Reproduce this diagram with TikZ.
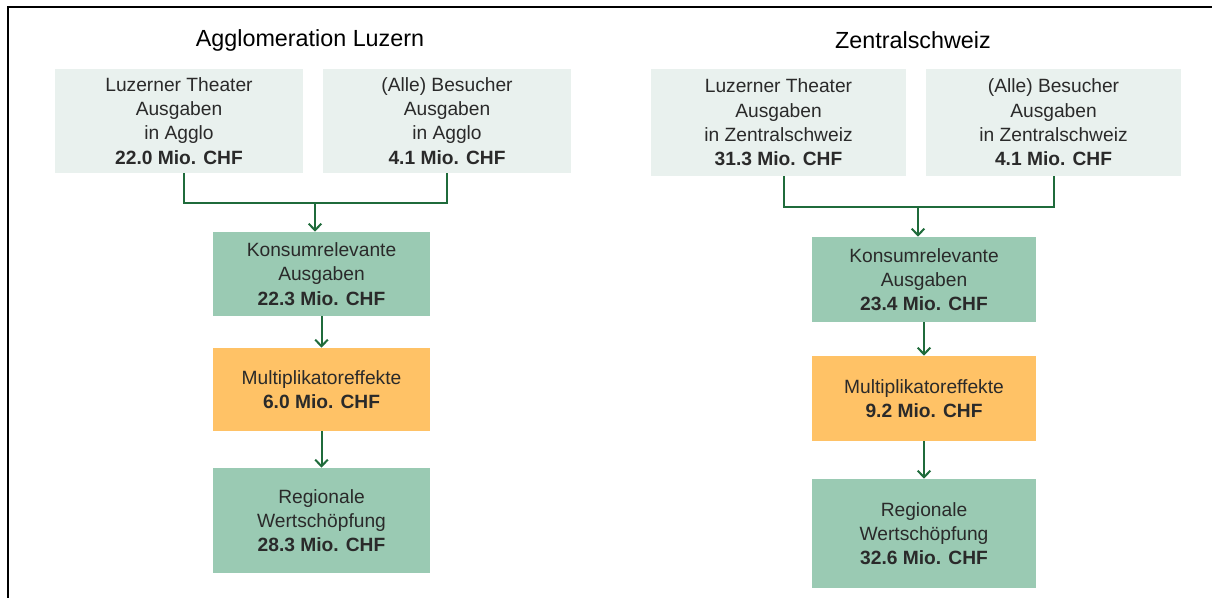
\documentclass[tikz,border=0pt]{standalone}
\usepackage{fontspec}
\setmainfont{Liberation Sans}
\usetikzlibrary{arrows.meta}
\definecolor{hellgruen}{HTML}{E9F1EE}
\definecolor{mittelgruen}{HTML}{9ACAB3}
\definecolor{multorange}{HTML}{FFC266}
\definecolor{pfeilgruen}{HTML}{1F6B3B}
\definecolor{textgrau}{HTML}{2A2A2A}
\newcommand{\pxu}{0.75pt} % ein Bildpunkt

\begin{document}
\begin{tikzpicture}[x=\pxu,y=-\pxu,font=\fontsize{14.4}{18.2}\selectfont,
  kasten/.style n args={2}{inner sep=0pt,align=center,text=textgrau,
    minimum width=#1*\pxu,minimum height=#2*\pxu},
  hell/.style={fill=hellgruen},
  gruen/.style={fill=mittelgruen},
  orange/.style={fill=multorange},
  titel/.style={font=\fontsize{17.5}{20}\selectfont},
  linie/.style={draw=pfeilgruen,line width=1.5pt},
  pfeil/.style={linie,-{Straight Barb[length=5pt,width=9.5pt]}}]
\useasboundingbox (0,0) rectangle (1212,598);
\draw[line width=1.5pt] (8,598) -- (8,7) -- (1212,7); % Rahmen

% Agglomeration Luzern
\node[titel] (t1) at (310,40) {Agglomeration Luzern};
\node[kasten={248}{104},hell] (lt1) at (179,121)
     {Luzerner Theater\\Ausgaben\\in Agglo\\\textbf{22.0 Mio. CHF}};
\node[kasten={248}{104},hell] (bs1) at (447,121)
     {(Alle) Besucher\\Ausgaben\\in Agglo\\\textbf{4.1 Mio. CHF}};
\node[kasten={217}{84},gruen] (ko1) at (321.5,274)
     {Konsumrelevante\\Ausgaben\\\textbf{22.3 Mio. CHF}};
\node[kasten={217}{83},orange] (mu1) at (321.5,389.5)
     {Multiplikatoreffekte\\\textbf{6.0 Mio. CHF}};
\node[kasten={217}{105},gruen] (re1) at (321.5,520.5)
     {Regionale\\Wertsch\"opfung\\\textbf{28.3 Mio. CHF}};
\coordinate (j1) at (315,203); % Zusammenfuehrung
\draw[linie] ([xshift=5*\pxu]lt1.south) |- (j1) -| (bs1.south);
\draw[pfeil] (j1) -- (j1 |- ko1.north);
\draw[pfeil] (ko1) -- (mu1);
\draw[pfeil] (mu1) -- (re1);

% Zentralschweiz
\node[titel] (t2) at (913,40) {Zentralschweiz};
\node[kasten={255}{107},hell] (lt2) at (778.5,122.5)
     {Luzerner Theater\\Ausgaben\\in Zentralschweiz\\\textbf{31.3 Mio. CHF}};
\node[kasten={255}{107},hell] (bs2) at (1053.5,122.5)
     {(Alle) Besucher\\Ausgaben\\in Zentralschweiz\\\textbf{4.1 Mio. CHF}};
\node[kasten={224}{85},gruen] (ko2) at (924,279.5)
     {Konsumrelevante\\Ausgaben\\\textbf{23.4 Mio. CHF}};
\node[kasten={224}{85},orange] (mu2) at (924,398.5)
     {Multiplikatoreffekte\\\textbf{9.2 Mio. CHF}};
\node[kasten={224}{109},gruen] (re2) at (924,533.5)
     {Regionale\\Wertsch\"opfung\\\textbf{32.6 Mio. CHF}};
\coordinate (j2) at (918,207); % Zusammenfuehrung
\draw[linie] ([xshift=5.5*\pxu]lt2.south) |- (j2) -| (bs2.south);
\draw[pfeil] (j2) -- (j2 |- ko2.north);
\draw[pfeil] (ko2) -- (mu2);
\draw[pfeil] (mu2) -- (re2);
\end{tikzpicture}
\end{document}
